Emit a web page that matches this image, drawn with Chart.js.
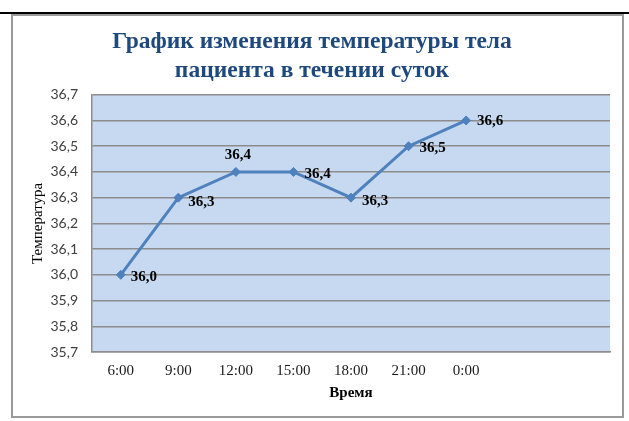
<!DOCTYPE html>
<html lang="ru">
<head>
<meta charset="UTF-8">
<title>График изменения температуры тела</title>
<script src="https://cdn.jsdelivr.net/npm/chart.js"></script>
<style>
  html, body { margin: 0; padding: 0; background: #fff; }
  #wrap { position: relative; width: 629px; height: 421px; }
</style>
</head>
<body>
<div id="wrap"><canvas id="tempChart" width="629" height="421"></canvas></div>
<script>
// данные
const times = ['6:00', '9:00', '12:00', '15:00', '18:00', '21:00', '0:00', '', ''];
const temps = [36.0, 36.3, 36.4, 36.4, 36.3, 36.5, 36.6, null, null];
const yMin = 35.7;
const yMax = 36.7;
const yStep = 0.1;

// где ставить подписи значений (смещения от точки)
const labelPlace = [
    { dx: 10, dy: 2, align: 'left' },
    { dx: 10, dy: 4, align: 'left' },
    { dx: 2, dy: -17, align: 'center' },
    { dx: 11, dy: 2, align: 'left' },
    { dx: 11, dy: 3, align: 'left' },
    { dx: 11, dy: 2, align: 'left' },
    { dx: 11, dy: 1, align: 'left' }
];

const comma = v => Number(v).toFixed(1).replace('.', ',');

// рамка диаграммы и фон области построения
const framePlugin = {
    id: 'frame',
    beforeDraw(chart) {
        const ctx = chart.ctx;
        const a = chart.chartArea;
        ctx.save();
        ctx.strokeStyle = '#000';
        ctx.lineWidth = 2;
        ctx.beginPath();
        ctx.moveTo(0, 13);
        ctx.lineTo(629, 13);
        ctx.stroke();
        ctx.strokeStyle = '#9a9a9a';
        ctx.lineWidth = 2;
        ctx.strokeRect(12, 15, 611, 402);
        ctx.fillStyle = '#c6d9f1';
        ctx.fillRect(a.left, a.top, a.right - a.left, a.bottom - a.top);
        ctx.restore();
    }
};

// подписи значений
const valuePlugin = {
    id: 'values',
    afterDatasetsDraw(chart) {
        const ctx = chart.ctx;
        const meta = chart.getDatasetMeta(0);
        ctx.save();
        ctx.font = 'bold 15px "Liberation Serif"';
        ctx.fillStyle = '#000';
        ctx.textBaseline = 'middle';
        meta.data.forEach((pt, i) => {
            const v = temps[i];
            if (v === null || !labelPlace[i]) return;
            const p = labelPlace[i];
            ctx.textAlign = p.align;
            ctx.fillText(comma(v), pt.x + p.dx, pt.y + p.dy);
        });
        ctx.restore();
    }
};

new Chart(document.getElementById('tempChart').getContext('2d'), {
    type: 'line',
    data: {
        labels: times,
        datasets: [{
            data: temps,
            borderColor: '#4f81bd',
            backgroundColor: '#4f81bd',
            borderWidth: 3,
            tension: 0,
            pointStyle: 'rectRot',
            pointRadius: 4.5,
            pointHoverRadius: 4.5,
            pointBorderWidth: 1
        }]
    },
    options: {
        responsive: false,
        animation: false,
        layout: { padding: { left: 14, right: 19, top: 14, bottom: 6 } },
        plugins: {
            legend: { display: false },
            tooltip: { enabled: false },
            title: {
                display: true,
                text: ['График изменения температуры тела', 'пациента в течении суток'],
                color: '#1f497d',
                font: { family: '"Liberation Serif"', size: 23.5, weight: 'bold', lineHeight: 1.25 },
                padding: { top: 13, bottom: 9 }
            }
        },
        scales: {
            x: {
                offset: true,
                grid: { display: false, drawTicks: false },
                border: { display: true, color: '#8c8c8c', width: 1.5 },
                ticks: {
                    color: '#1a1a1a',
                    font: { family: '"Liberation Serif"', size: 15 },
                    padding: 10,
                    maxRotation: 0,
                    autoSkip: false
                },
                title: {
                    display: true,
                    text: 'Время',
                    color: '#000',
                    font: { family: '"Liberation Serif"', size: 15, weight: 'bold' },
                    padding: { top: 0, bottom: 13 }
                },
                afterFit(scale) { scale.height = 63; }
            },
            y: {
                min: yMin,
                max: yMax,
                grid: { color: '#8c8c8c', lineWidth: 1.5, drawTicks: false },
                border: { display: true, color: '#8c8c8c', width: 1.5 },
                ticks: {
                    stepSize: yStep,
                    color: '#404040',
                    font: { family: 'Lato', size: 14 },
                    padding: 14,
                    callback: v => comma(v)
                },
                title: {
                    display: true,
                    text: 'Температура',
                    color: '#000',
                    font: { family: '"Liberation Serif"', size: 15 },
                    padding: { top: 15, bottom: 0 }
                },
                afterFit(scale) { scale.width = 78; }
            }
        }
    },
    plugins: [framePlugin, valuePlugin]
});
</script>
</body>
</html>
